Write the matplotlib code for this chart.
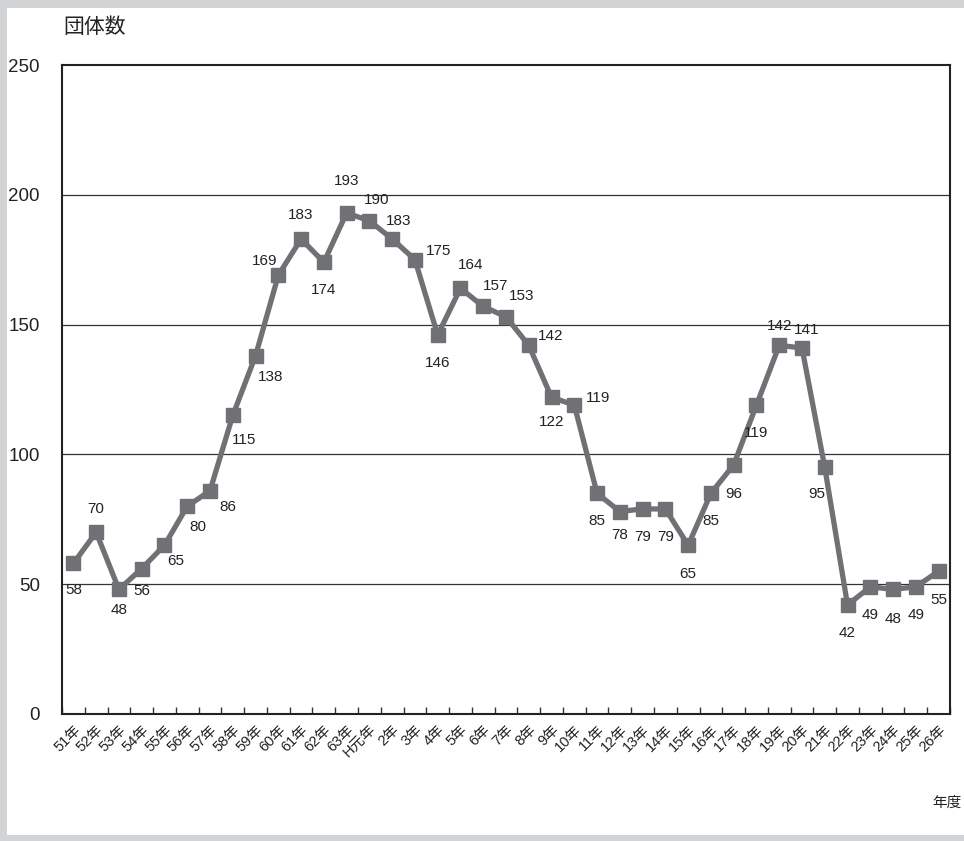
import matplotlib
matplotlib.use('Agg')
import matplotlib.pyplot as plt
from matplotlib.patches import Rectangle
import numpy as np

plt.rcParams['font.family'] = ['Liberation Sans', 'Noto Sans CJK JP', 'DejaVu Sans']

# 年度ラベル
nendo = ['51年', '52年', '53年', '54年', '55年', '56年', '57年', '58年', '59年', '60年',
         '61年', '62年', '63年', 'H元年', '2年', '3年', '4年', '5年', '6年', '7年',
         '8年', '9年', '10年', '11年', '12年', '13年', '14年', '15年', '16年', '17年',
         '18年', '19年', '20年', '21年', '22年', '23年', '24年', '25年', '26年']

# 団体数
dantai = [58, 70, 48, 56, 65, 80, 86, 115, 138, 169,
          183, 174, 193, 190, 183, 175, 146, 164, 157, 153,
          142, 122, 119, 85, 78, 79, 79, 65, 85, 96,
          119, 142, 141, 95, 42, 49, 48, 49, 55]

# ラベルの位置 (points)
ofs = [(0, -19), (0, 17), (0, -15), (0, -16), (8, -11), (8, -15), (13, -12), (8, -18),
       (11, -15), (-10, 10), (0, 17), (0, -20), (0, 23), (5, 15), (5, 13), (17, 6),
       (0, -20), (7, 17), (9, 15), (11, 15), (16, 7), (0, -18), (17, 5), (0, -20),
       (0, -17), (0, -20), (0, -20), (0, -21), (0, -20), (0, -21), (0, -20),
       (0, 14), (3, 13), (-6, -19), (0, -20), (0, -20), (0, -21), (0, -20), (0, -21)]

fig = plt.figure(figsize=(9.64, 8.41), dpi=100)
fig.patch.set_facecolor('#d2d3d5')
fig.patches.append(Rectangle((7 / 964, 6 / 841), 1, 1 - 14 / 841, transform=fig.transFigure,
                             facecolor='white', edgecolor='none', zorder=-10))

ax = fig.add_axes([62 / 964, 1 - 714 / 841, 888 / 964, 649 / 841])
ax.set_zorder(2)
x = np.arange(len(nendo))
ax.plot(x, dantai, color='#707174', lw=3.8, marker='s', markersize=10.5, zorder=3)

for xi, v, (dx, dy) in zip(x, dantai, ofs):
    ax.annotate(str(v), (xi, v), xytext=(dx, dy), textcoords='offset points',
                ha='center', va='center', fontsize=11, color='#222222')

ax.set_xlim(-0.5, len(nendo) - 0.5)
ax.set_ylim(0, 250)
ax.set_yticks([0, 50, 100, 150, 200, 250])
ax.tick_params(axis='y', length=0, labelsize=13.5, pad=16, labelcolor='#222222')
for g in [50, 100, 150, 200]:
    ax.axhline(g, color='#333333', lw=0.9, zorder=1)

ax.set_xticks(x)
ax.set_xticklabels(nendo, rotation=45, ha='right', rotation_mode='anchor', fontsize=10.5,
                   color='#222222')
ax.set_xticks(np.arange(len(nendo) + 1) - 0.5, minor=True)
ax.tick_params(axis='x', which='major', length=0, pad=6)
ax.tick_params(axis='x', which='minor', direction='in', length=5, width=1, color='#333333')
for s in ax.spines.values():
    s.set_color('#222222')
    s.set_linewidth(1.5)

fig.text(63 / 964, 1 - 27 / 841, '団体数', fontsize=15, va='center', ha='left', color='#222222')
fig.text(962 / 964, 1 - 803 / 841, '年度', fontsize=10.5, va='center', ha='right', color='#222222')

fig.savefig('out.png', dpi=100, facecolor=fig.get_facecolor())
